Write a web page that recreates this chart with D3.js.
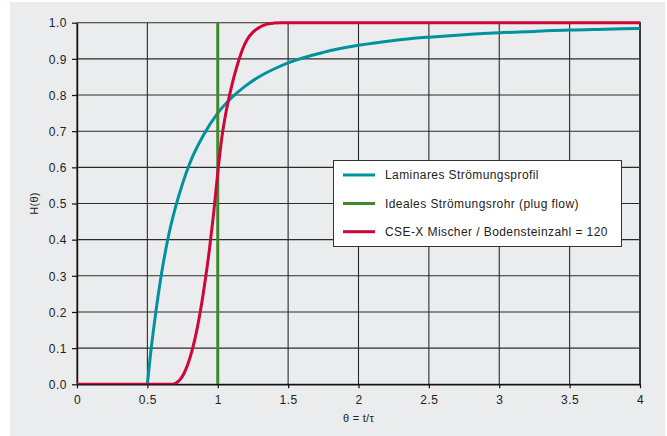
<!DOCTYPE html>
<html><head><meta charset="utf-8">
<script src="https://cdn.jsdelivr.net/npm/d3@7"></script>
<style>
html,body{margin:0;padding:0;background:#fff;}
svg{display:block;font-family:"Liberation Sans",Arial,sans-serif;}
</style></head>
<body><svg id="c" width="667" height="436"></svg>
<script>
const xTicks = [0, 0.5, 1, 1.5, 2, 2.5, 3, 3.5, 4];
const xTickLabels = ["0", "0.5", "1", "1.5", "2", "2.5", "3", "3.5", "4"];
const yTicks = [0, 0.1, 0.2, 0.3, 0.4, 0.5, 0.6, 0.7, 0.8, 0.9, 1.0];
const yTickLabels = ["0.0","0.1","0.2","0.3","0.4","0.5","0.6","0.7","0.8","0.9","1.0"];
const seriesNames = ["Laminares Strömungsprofil", "Ideales Strömungsrohr (plug flow)", "CSE-X Mischer / Bodensteinzahl = 120"];
const seriesColors = ["#00929e", "#3d8a2b", "#d00538"];
const xLabel = "θ = t/τ";
const yLabel = "H(θ)";

// Laminar profile
const laminarTheta = [0.5, 0.52, 0.55, 0.6, 0.65, 0.7, 0.75, 0.8, 0.9, 1.0, 1.1, 1.2, 1.3, 1.4, 1.5, 1.75, 2.0, 2.25, 2.5, 2.75, 3.0, 3.25, 3.5, 3.75, 4.0];
const laminarH     = [0.0, 0.075, 0.17, 0.305, 0.41, 0.49, 0.555, 0.61, 0.69, 0.75, 0.793, 0.826, 0.852, 0.872, 0.889, 0.918, 0.9375, 0.951, 0.96, 0.967, 0.972, 0.976, 0.98, 0.982, 0.984];
// Ideal plug flow
const plugTheta = [1, 1];
const plugH     = [0, 1];
// CSE-X mixer, Bo = 120
const cseTheta = [0, 0.3, 0.6, 0.67, 0.70, 0.73, 0.76, 0.79, 0.82, 0.85, 0.88, 0.91, 0.94, 0.97, 1.0, 1.03, 1.06, 1.09, 1.12, 1.15, 1.18, 1.21, 1.25, 1.3, 1.35, 1.4, 1.45, 1.6, 2.0, 3.0, 4.0];
const cseH     = [0, 0, 0, 0, 0.003, 0.012, 0.03, 0.058, 0.097, 0.147, 0.21, 0.285, 0.37, 0.47, 0.585, 0.685, 0.755, 0.81, 0.857, 0.897, 0.93, 0.954, 0.974, 0.988, 0.996, 0.999, 1.0, 1.0, 1.0, 1.0, 1.0];

const svg = d3.select("#c");
svg.append("rect").attr("x", 10).attr("y", 2).attr("width", 655).attr("height", 434).attr("fill", "#ebeced");

const L = 77, R = 640, T = 22.7, B = 384.3;
const x = d3.scaleLinear().domain([0, 4]).range([L, R]);
const y = d3.scaleLinear().domain([0, 1]).range([B, T]);

const g = svg.append("g");
g.selectAll(".hg").data(yTicks).join("line")
  .attr("x1", L).attr("x2", R).attr("y1", d => y(d)).attr("y2", d => y(d))
  .attr("stroke", "#2b2b2b").attr("stroke-width", 1.1);
g.selectAll(".vg").data(xTicks).join("line")
  .attr("y1", T).attr("y2", B).attr("x1", d => x(d)).attr("x2", d => x(d))
  .attr("stroke", "#2b2b2b").attr("stroke-width", 1.1);
g.append("line").attr("x1", R).attr("x2", R).attr("y1", T - 1).attr("y2", B)
  .attr("stroke", "#3a3a3a").attr("stroke-width", 2);

const fontTick = "12px";
const xAxis = d3.axisBottom(x).tickValues(xTicks).tickFormat((d, i) => xTickLabels[i]).tickSize(4).tickSizeOuter(0);
const yAxis = d3.axisLeft(y).tickValues(yTicks).tickFormat((d, i) => yTickLabels[i]).tickSize(5).tickSizeOuter(0);
const gx = svg.append("g").attr("transform", `translate(0,${B})`).call(xAxis);
const gy = svg.append("g").attr("transform", `translate(${L},0)`).call(yAxis);
[gx, gy].forEach(a => {
  a.select(".domain").attr("stroke", "#111").attr("stroke-width", 1.4);
  a.selectAll(".tick line").attr("stroke", "#111").attr("stroke-width", 1.2);
  a.selectAll(".tick text").attr("fill", "#222").style("font-size", fontTick)
    .style("letter-spacing", "0.5px").style("font-family", "'Liberation Sans',Arial,sans-serif");
});
gx.selectAll(".tick text").attr("dy", "0").attr("y", 20);
gy.selectAll(".tick text").attr("x", -10).attr("dy", "0.35em");

svg.append("text").attr("x", (L + R) / 2).attr("y", 422).attr("text-anchor", "middle")
  .attr("fill", "#222").style("font-size", "11px").style("letter-spacing", "0.3px").text(xLabel);
svg.append("text").attr("transform", `translate(38,${(T + B) / 2}) rotate(-90)`).attr("text-anchor", "middle")
  .attr("fill", "#222").style("font-size", "11px").style("letter-spacing", "0.3px").text(yLabel);

const line = d3.line().x(d => x(d[0])).y(d => y(d[1])).curve(d3.curveMonotoneX);
const series = [
  d3.zip(laminarTheta, laminarH),
  d3.zip(plugTheta, plugH),
  d3.zip(cseTheta, cseH)
];
svg.append("clipPath").attr("id", "clp").append("rect")
  .attr("x", L - 2).attr("y", T - 3).attr("width", R - L + 2).attr("height", B - T + 3);
[0, 1, 2].forEach(i => {
  const path = i === 1 ? d3.line().x(d => x(d[0])).y(d => y(d[1]))(series[i]) : line(series[i]);
  svg.append("path").attr("d", path).attr("fill", "none")
    .attr("stroke", seriesColors[i]).attr("stroke-width", 3)
    .attr("clip-path", "url(#clp)");
});

const lg = svg.append("g");
lg.append("rect").attr("x", 333.5).attr("y", 160.5).attr("width", 288).attr("height", 86)
  .attr("fill", "#fff").attr("stroke", "#333").attr("stroke-width", 1);
const rows = [175, 203.5, 231.7];
seriesNames.forEach((n, i) => {
  lg.append("line").attr("x1", 343).attr("x2", 375).attr("y1", rows[i]).attr("y2", rows[i])
    .attr("stroke", seriesColors[i]).attr("stroke-width", 3);
  lg.append("text").attr("x", 385).attr("y", rows[i]).attr("dy", "0.35em")
    .attr("fill", "#222").style("font-size", "12px").style("letter-spacing", "0.42px").text(n);
});
</script></body></html>
